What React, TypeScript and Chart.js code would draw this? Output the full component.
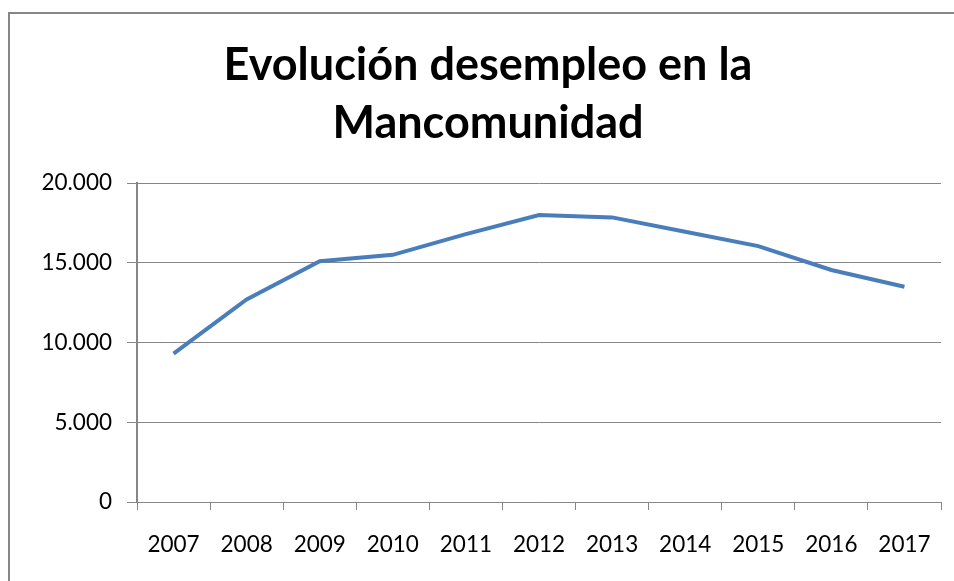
import React, { useEffect, useRef } from 'react';
import { Chart, registerables } from 'chart.js';

Chart.register(...registerables);

const years = ['2007', '2008', '2009', '2010', '2011', '2012', '2013', '2014', '2015', '2016', '2017'];
const desempleo = [9300, 12700, 15100, 15500, 16800, 18000, 17850, 16950, 16050, 14550, 13500];
const yMin = 0;
const yMax = 20000;
const yStep = 5000;
const titleLines = ['Evolución desempleo en la', 'Mancomunidad'];

const FONT = 'Lato, "Open Sans", "Noto Sans", sans-serif';
const GRID = '#868686';

function fmt(v: number): string {
  return String(v).replace(/\B(?=(\d{3})+(?!\d))/g, '.');
}

export default function App() {
  const ref = useRef<HTMLCanvasElement | null>(null);

  useEffect(() => {
    document.documentElement.style.overflow = 'hidden';
    document.body.style.overflow = 'hidden';
    if (!ref.current) return;
    const chart = new Chart(ref.current, {
      type: 'line',
      data: {
        labels: years,
        datasets: [
          {
            label: 'Desempleo',
            data: desempleo,
            borderColor: '#4A7EBB',
            backgroundColor: '#4A7EBB',
            borderWidth: 4,
            pointRadius: 0,
            pointHoverRadius: 0,
            tension: 0,
            fill: false,
          },
        ],
      },
      options: {
        responsive: false,
        animation: false,
        devicePixelRatio: 1,
        layout: { padding: { top: 14, left: 35, right: 13, bottom: 0 } },
        plugins: {
          legend: { display: false },
          tooltip: { enabled: false },
          title: {
            display: true,
            text: titleLines,
            color: '#000',
            font: { family: FONT, size: 45, weight: 'bold', lineHeight: 1.29 },
            padding: { top: 22, bottom: 31 },
          },
        },
        scales: {
          x: {
            type: 'category',
            offset: true,
            grid: {
              offset: true,
              drawOnChartArea: false,
              drawTicks: true,
              tickLength: 8,
              color: GRID,
              lineWidth: 1,
            },
            border: { display: true, color: GRID, width: 1 },
            ticks: {
              color: '#000',
              font: { family: FONT, size: 22.5 },
              padding: 21,
              maxRotation: 0,
              autoSkip: false,
            },
            afterFit: (s: any) => {
              s.height = 79;
            },
          },
          y: {
            min: yMin,
            max: yMax,
            grid: {
              color: GRID,
              lineWidth: 1,
              drawTicks: true,
              tickLength: 10,
            },
            border: { display: true, color: GRID, width: 2 },
            ticks: {
              stepSize: yStep,
              color: '#000',
              font: { family: FONT, size: 22.5 },
              padding: 15,
              callback: (v: any) => fmt(Number(v)),
            },
            afterFit: (s: any) => {
              s.width = 102;
            },
          },
        },
      },
    });
    return () => chart.destroy();
  }, []);

  return (
    <div
      style={{
        position: 'fixed',
        left: 0,
        top: 0,
        width: 954,
        height: 581,
        overflow: 'hidden',
        background: '#fff',
      }}
    >
      <div
        style={{
          position: 'absolute',
          left: 8,
          top: 12,
          width: 1200,
          height: 900,
          borderLeft: `2px solid ${GRID}`,
          borderTop: `2px solid ${GRID}`,
        }}
      />
      <canvas
        ref={ref}
        width={954}
        height={581}
        style={{ position: 'absolute', left: 0, top: 0, width: 954, height: 581 }}
      />
    </div>
  );
}
